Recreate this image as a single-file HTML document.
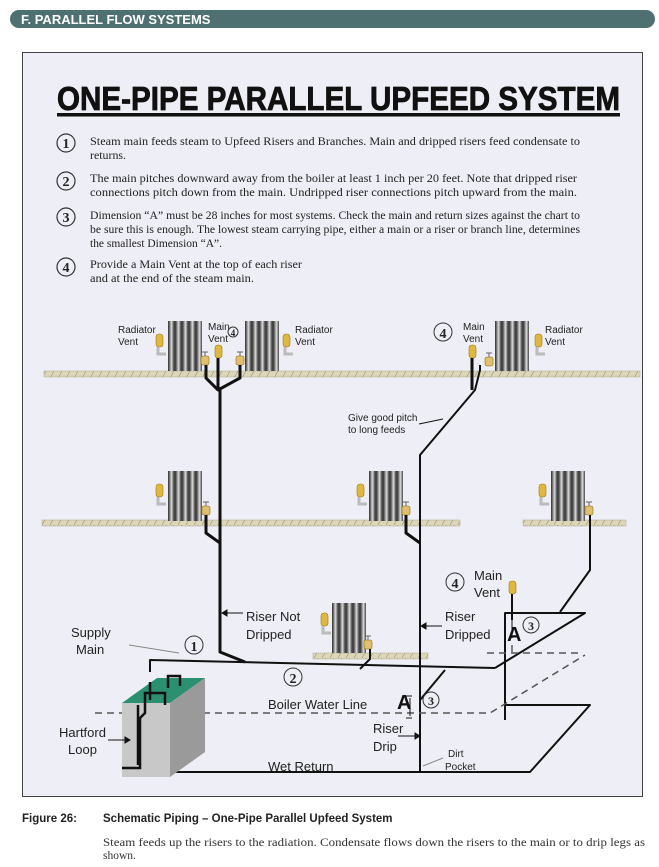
<!DOCTYPE html>
<html><head><meta charset="utf-8"><style>
body{margin:0;background:#fff;width:659px;height:862px;overflow:hidden;font-family:"Liberation Sans",sans-serif}
</style></head><body>
<svg width="659" height="862" viewBox="0 0 659 862" xmlns="http://www.w3.org/2000/svg" font-family="Liberation Sans, sans-serif">
<defs>
<pattern id="h" width="8" height="7" patternUnits="userSpaceOnUse"><rect width="8" height="7" fill="#dcd7b8"/><line x1="2" y1="7" x2="6" y2="0" stroke="#9e9880" stroke-width="0.7"/></pattern>
<linearGradient id="rg" x1="0" x2="1"><stop offset="0" stop-color="#555"/><stop offset=".5" stop-color="#ddd"/><stop offset="1" stop-color="#444"/></linearGradient>
<g id="rad"><rect x="0" y="0" width="34" height="50" fill="#444"/>
<rect x="1" y="0" width="5" height="50" fill="url(#rg)"/><rect x="8" y="0" width="5" height="50" fill="url(#rg)"/><rect x="15" y="0" width="5" height="50" fill="url(#rg)"/><rect x="22" y="0" width="5" height="50" fill="url(#rg)"/><rect x="29" y="0" width="5" height="50" fill="url(#rg)"/></g>
<g id="vent"><rect x="0" y="0" width="7" height="13" rx="3" fill="#e0b840" stroke="#a07a10" stroke-width=".6"/><path d="M2 13v7h8" fill="none" stroke="#bbb" stroke-width="3"/></g>
<g id="valve"><rect x="-4" y="0" width="8" height="9" rx="2" fill="#e0c070" stroke="#906a10" stroke-width=".6"/><line x1="0" y1="0" x2="0" y2="-4" stroke="#666"/><line x1="-3" y1="-4" x2="3" y2="-4" stroke="#666"/></g>
</defs>
<rect x="10" y="10" width="645" height="18" rx="9" fill="#4f7070"/>
<text x="21" y="24" fill="#fff" font-weight="bold" font-size="13">F. PARALLEL FLOW SYSTEMS</text>
<rect x="22.5" y="52.5" width="620" height="744" fill="#eeeef6" stroke="#444"/>
<text x="57" y="110" font-weight="bold" font-size="33" fill="#111" stroke="#111" stroke-width="0.8" textLength="563" lengthAdjust="spacingAndGlyphs">ONE-PIPE PARALLEL UPFEED SYSTEM</text>
<rect x="57" y="113" width="563" height="3.5" fill="#111"/>
<g font-family="Liberation Serif, serif" font-size="11.5" fill="#222">
<g fill="none" stroke="#333" stroke-width="1.2"><circle cx="66" cy="143" r="9"/><circle cx="66" cy="181" r="9"/><circle cx="66" cy="217" r="9"/><circle cx="66" cy="267" r="9"/></g>
<g font-weight="bold" font-size="14" text-anchor="middle"><text x="66" y="148">1</text><text x="66" y="186">2</text><text x="66" y="222">3</text><text x="66" y="272">4</text></g>
<text x="90" y="145" textLength="490" lengthAdjust="spacingAndGlyphs">Steam main feeds steam to Upfeed Risers and Branches. Main and dripped risers feed condensate to</text>
<text x="90" y="159" textLength="36" lengthAdjust="spacingAndGlyphs">returns.</text>
<text x="90" y="182" textLength="487" lengthAdjust="spacingAndGlyphs">The main pitches downward away from the boiler at least 1 inch per 20 feet. Note that dripped riser</text>
<text x="90" y="196" textLength="487" lengthAdjust="spacingAndGlyphs">connections pitch down from the main. Undripped riser connections pitch upward from the main.</text>
<text x="90" y="219" textLength="490" lengthAdjust="spacingAndGlyphs">Dimension “A” must be 28 inches for most systems. Check the main and return sizes against the chart to</text>
<text x="90" y="233" textLength="490" lengthAdjust="spacingAndGlyphs">be sure this is enough. The lowest steam carrying pipe, either a main or a riser or branch line, determines</text>
<text x="90" y="247" textLength="132" lengthAdjust="spacingAndGlyphs">the smallest Dimension “A”.</text>
<text x="90" y="268" textLength="212" lengthAdjust="spacingAndGlyphs">Provide a Main Vent at the top of each riser</text>
<text x="90" y="282" textLength="164" lengthAdjust="spacingAndGlyphs">and at the end of the steam main.</text>
</g>
<!-- floors -->
<rect x="44" y="371" width="596" height="6" fill="url(#h)" stroke="#b0aa90" stroke-width=".5"/>
<rect x="42" y="520" width="418" height="6" fill="url(#h)" stroke="#b0aa90" stroke-width=".5"/>
<rect x="523" y="520" width="103" height="6" fill="url(#h)" stroke="#b0aa90" stroke-width=".5"/>
<rect x="313" y="653" width="115" height="6" fill="url(#h)" stroke="#b0aa90" stroke-width=".5"/>
<!-- radiators -->
<use href="#rad" x="168" y="321"/><use href="#rad" x="245" y="321"/><use href="#rad" x="495" y="321"/>
<use href="#rad" x="168" y="471"/><use href="#rad" x="369" y="471"/><use href="#rad" x="551" y="471"/>
<use href="#rad" x="332" y="603"/>
<use href="#vent" x="156" y="334"/><use href="#vent" x="283" y="334"/><use href="#vent" x="535" y="334"/>
<use href="#vent" x="156" y="484"/><use href="#vent" x="357" y="484"/><use href="#vent" x="539" y="484"/><use href="#vent" x="321" y="613"/>
<use href="#valve" x="205" y="356"/><use href="#valve" x="240" y="356"/><use href="#valve" x="489" y="357"/>
<use href="#valve" x="206" y="506"/><use href="#valve" x="406" y="506"/><use href="#valve" x="589" y="506"/><use href="#valve" x="368" y="640"/>
<rect x="215" y="345" width="7" height="13" rx="3" fill="#e0b840" stroke="#a07a10" stroke-width=".6"/>
<rect x="469" y="345" width="7" height="13" rx="3" fill="#e0b840" stroke="#a07a10" stroke-width=".6"/>
<rect x="509" y="581" width="7" height="13" rx="3" fill="#e0b840" stroke="#a07a10" stroke-width=".6"/>
<!-- pipes -->
<g fill="none" stroke="#111" stroke-width="3" stroke-linejoin="round">
<path d="M218 358v32l-12-12v-13M218 390l22-12v-13"/>
<path d="M220 390V652l25 10"/>
<path d="M206 515v18l14 10"/>
<path d="M406 515v18l14 10"/>
<path d="M472 358v32"/>
</g>
<g fill="none" stroke="#111" stroke-width="2" stroke-linejoin="round">
<path d="M420 772V455l55-65l5-20v-5"/>
<path d="M590 515v55l-30 42"/>
<path d="M370 649v10l-10 10"/>
<path d="M150 672v-12l345 8"/>
<path d="M420 700l25-30"/>
<path d="M495 668l90-55h-80v107"/>
<path d="M512 594v26"/>
<path d="M505 705h85l-60 67H125"/>
</g>
<g fill="none" stroke="#555" stroke-width="1.5" stroke-dasharray="7 5">
<path d="M95 713h395l95-58"/><path d="M487 653h95"/>
</g>
<!-- boiler -->
<polygon points="122,703 157,678 205,678 170,703" fill="#2a9070"/>
<rect x="122" y="703" width="48" height="74" fill="#c8c8c8"/>
<polygon points="170,703 205,678 205,752 170,777" fill="#9a9a9a"/>
<g fill="none" stroke="#111" stroke-width="2.5">
<path d="M150 700v-18M145 703v-10h20v12M168 688v-12h12v10M138 765v-60"/>
<path d="M145 703v10l-5 5v50h-18"/>
</g>
<!-- labels -->
<g font-size="10" fill="#222">
<text x="118" y="333">Radiator</text><text x="118" y="345">Vent</text>
<text x="208" y="330">Main</text><text x="208" y="342">Vent</text>
<text x="295" y="333">Radiator</text><text x="295" y="345">Vent</text>
<text x="463" y="330">Main</text><text x="463" y="342">Vent</text>
<text x="545" y="333">Radiator</text><text x="545" y="345">Vent</text>
<text x="348" y="421">Give good pitch</text><text x="348" y="433">to long feeds</text>
<text x="448" y="757">Dirt</text><text x="445" y="770">Pocket</text>
</g>
<g font-family="Liberation Serif, serif" font-weight="bold" fill="#222">
<circle cx="233" cy="332" r="5" fill="none" stroke="#333"/><text x="233" y="336" text-anchor="middle" font-size="9">4</text>
<circle cx="443" cy="332" r="9" fill="none" stroke="#333"/><text x="443" y="338" text-anchor="middle" font-size="14">4</text>
<circle cx="455" cy="582" r="9" fill="none" stroke="#333"/><text x="455" y="588" text-anchor="middle" font-size="14">4</text>
<circle cx="194" cy="645" r="9" fill="none" stroke="#333"/><text x="194" y="651" text-anchor="middle" font-size="14">1</text>
<circle cx="293" cy="677" r="9" fill="none" stroke="#333"/><text x="293" y="683" text-anchor="middle" font-size="14">2</text>
<circle cx="431" cy="700" r="8" fill="none" stroke="#333"/><text x="431" y="705" text-anchor="middle" font-size="12">3</text>
<circle cx="531" cy="625" r="8" fill="none" stroke="#333"/><text x="531" y="630" text-anchor="middle" font-size="12">3</text>
</g>
<g font-size="13" fill="#222">
<text x="474" y="580">Main</text><text x="474" y="597">Vent</text>
<text x="246" y="621">Riser Not</text><text x="246" y="639">Dripped</text>
<text x="445" y="621">Riser</text><text x="445" y="639">Dripped</text>
<text x="71" y="637">Supply</text><text x="76" y="654">Main</text>
<text x="268" y="709">Boiler Water Line</text>
<text x="373" y="733">Riser</text><text x="373" y="751">Drip</text>
<text x="59" y="737">Hartford</text><text x="68" y="754">Loop</text>
<text x="268" y="771">Wet Return</text>
</g>
<g font-weight="bold" font-size="20" fill="#111"><text x="397" y="709">A</text><text x="507" y="641">A</text></g>
<g stroke="#111" stroke-width="1" fill="#111">
<path d="M243 613h-18"/><path d="M222 613l5-3v6z"/>
<path d="M442 626h-18"/><path d="M421 626l5-3v6z"/>
<path d="M398 736h20"/><path d="M420 736l-5-3v6z"/>
<path d="M108 740h20"/><path d="M130 740l-5-3v6z"/>
<path d="M419 424l24-5"/>
<path d="M412 696h-6M412 718h-6M410 698v18"/>
<path d="M512 620v18M512 645v7"/>
<path d="M423 766l20-8" stroke="#888"/>
<path d="M129 645l50 8" stroke="#888" fill="none"/>
</g>
<text x="22" y="822" font-size="11.5" font-weight="bold" fill="#222">Figure 26:</text>
<text x="103" y="822" font-size="11.5" font-weight="bold" fill="#222">Schematic Piping – One-Pipe Parallel Upfeed System</text>
<g font-family="Liberation Serif, serif" font-size="11.5" fill="#333">
<text x="103" y="846" textLength="542" lengthAdjust="spacingAndGlyphs">Steam feeds up the risers to the radiation. Condensate flows down the risers to the main or to drip legs as</text>
<text x="103" y="859">shown.</text></g>
</svg>
</body></html>
